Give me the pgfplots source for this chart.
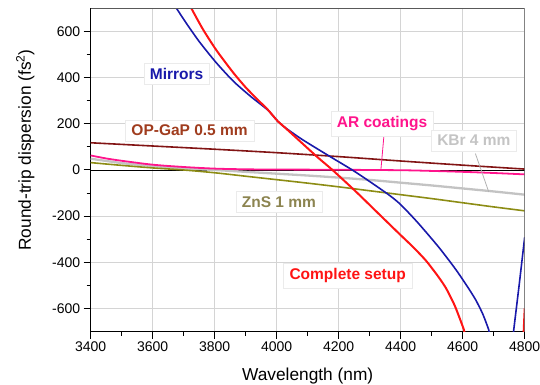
\documentclass[border=0pt]{standalone}
\usepackage{fontspec}
\setmainfont{Liberation Sans}
\usepackage{pgfplots}
\pgfplotsset{compat=1.18}

\definecolor{cblue}{RGB}{25,25,170}
\definecolor{cred}{RGB}{255,20,20}
\definecolor{cgap}{RGB}{130,20,20}
\definecolor{cgaptext}{RGB}{160,60,30}
\definecolor{cpink}{RGB}{255,20,140}
\definecolor{cgray}{RGB}{195,195,195}
\definecolor{colive}{RGB}{140,140,20}
\definecolor{colivetext}{RGB}{140,132,80}
\tikzset{labelbox/.style={fill=white, draw=black!8, inner xsep=6bp, inner ysep=5bp, font=\fontsize{15.5bp}{18bp}\selectfont\bfseries}}

\begin{document}
\begin{tikzpicture}
\begin{axis}[
  scale only axis, width=434bp, height=323bp,
  xmin=3400, xmax=4800, ymin=-700, ymax=700,
  xtick={3400,3600,...,4800}, ytick={-600,-400,...,600},
  minor x tick num=1, minor y tick num=1,
  axis x line*=bottom, axis y line*=left,
  axis line style={line width=1.2bp, black, -},
  tick align=outside, major tick length=7bp, minor tick length=4bp,
  tick style={line width=1bp, black},
  grid=major, major grid style={line width=0.9bp, color=black!17},
  ticklabel style={font=\fontsize{14bp}{16bp}\selectfont},
  /pgf/number format/assume math mode=true,
  /pgf/number format/1000 sep={},
  xlabel={Wavelength (nm)},
  ylabel={Round-trip dispersion (fs\textsuperscript{2})},
  label style={font=\fontsize{17.3bp}{20bp}\selectfont},
  xlabel style={at={([yshift=-45bp]rel axis cs:0.5,0)}, anchor=center},
  ylabel style={at={([xshift=-65.5bp]rel axis cs:0,0.562)}, anchor=center},
]
\coordinate (BL) at (rel axis cs:0,0);
\coordinate (TR) at (rel axis cs:1,1);
\addplot[black, line width=0.8bp] coordinates {(3400,0)(4800,0)};

% KBr 4 mm
\addplot[cgray, line width=2.3bp, smooth] coordinates {(3400,49)(3500,30)(3600,17)(3700,7)(3800,0)(3900,-8)(4000,-16)(4100,-24)(4200,-33)(4300,-43)(4400,-55)(4500,-67)(4600,-80)(4700,-93)(4800,-107)};
% ZnS 1 mm
\addplot[colive, line width=1.6bp, smooth] coordinates {(3400,32)(3500,20)(3600,9)(3700,0)(3800,-12)(3900,-27)(4000,-42)(4100,-57)(4200,-73)(4300,-90)(4400,-107)(4500,-124)(4600,-142)(4700,-160)(4800,-177)};
% OP-GaP
\addplot[cgap, line width=1.6bp, smooth] coordinates {(3400,118)(3600,104)(3800,90)(4000,75)(4200,58)(4400,39)(4600,21)(4800,4)};
% AR coatings
\addplot[cpink, line width=1.8bp, smooth] coordinates {(3400,63)(3450,50)(3500,40)(3600,23)(3700,13)(3800,6)(3900,3)(4000,2)(4200,1)(4400,-1)(4500,-4)(4600,-8)(4700,-13)(4800,-19)};
% Mirrors
\addplot[cblue, line width=1.6bp, smooth, tension=0.4] coordinates {(3665,722)(3677,700)(3709,635)(3751,555)(3805,465)(3860,385)(3915,320)(3971,260)(4003,212)(4025,186)(4078,136)(4132,91)(4186,47)(4244,0)(4300,-50)(4362,-108)(4400,-150)(4455,-228)(4523,-335)(4577,-430)(4615,-505)(4642,-563)(4665,-625)(4684,-693)(4688,-722)};
\addplot[cblue, line width=1.6bp] coordinates {(4762,-722)(4764,-700)(4782,-500)(4800,-291)};
% Complete setup
\addplot[cred, line width=2bp, smooth, tension=0.4] coordinates {(3718,722)(3725,700)(3762,610)(3805,520)(3858,425)(3900,358)(3940,303)(3971,262)(4003,212)(4025,186)(4078,121)(4132,55)(4180,0)(4255,-93)(4320,-178)(4395,-276)(4440,-334)(4481,-392)(4520,-460)(4546,-512)(4575,-590)(4604,-693)(4607,-722)};
\addplot[cred, line width=2bp] coordinates {(4796,-722)(4800,-600)};

% callouts
\draw[cpink, line width=0.8bp] (axis cs:4346,150) -- (axis cs:4336,-1);
\draw[black!30, line width=0.8bp] (axis cs:4641,71) -- (axis cs:4684,-95);

% labels
\node[labelbox, text=cblue] at (axis cs:3677,418) {Mirrors};
\node[labelbox, text=cgaptext] at (axis cs:3719,171) {OP-GaP 0.5 mm};
\node[labelbox, text=cpink] at (axis cs:4340,201) {AR coatings};
\node[labelbox, text=black!23] at (axis cs:4636,128) {KBr 4 mm};
\node[labelbox, text=colivetext] at (axis cs:4007,-138) {ZnS 1 mm};
\node[labelbox, text=cred] at (axis cs:4229,-458) {Complete setup};

\draw[black!65, line width=1bp] (rel axis cs:0,1) -- (rel axis cs:1,1) -- (rel axis cs:1,0);
\end{axis}
\pgfresetboundingbox
\path[use as bounding box] (BL) ++(-90.7bp,-53.5bp) rectangle ([shift={(15.3bp,8.5bp)}]TR);
\end{tikzpicture}
\end{document}
